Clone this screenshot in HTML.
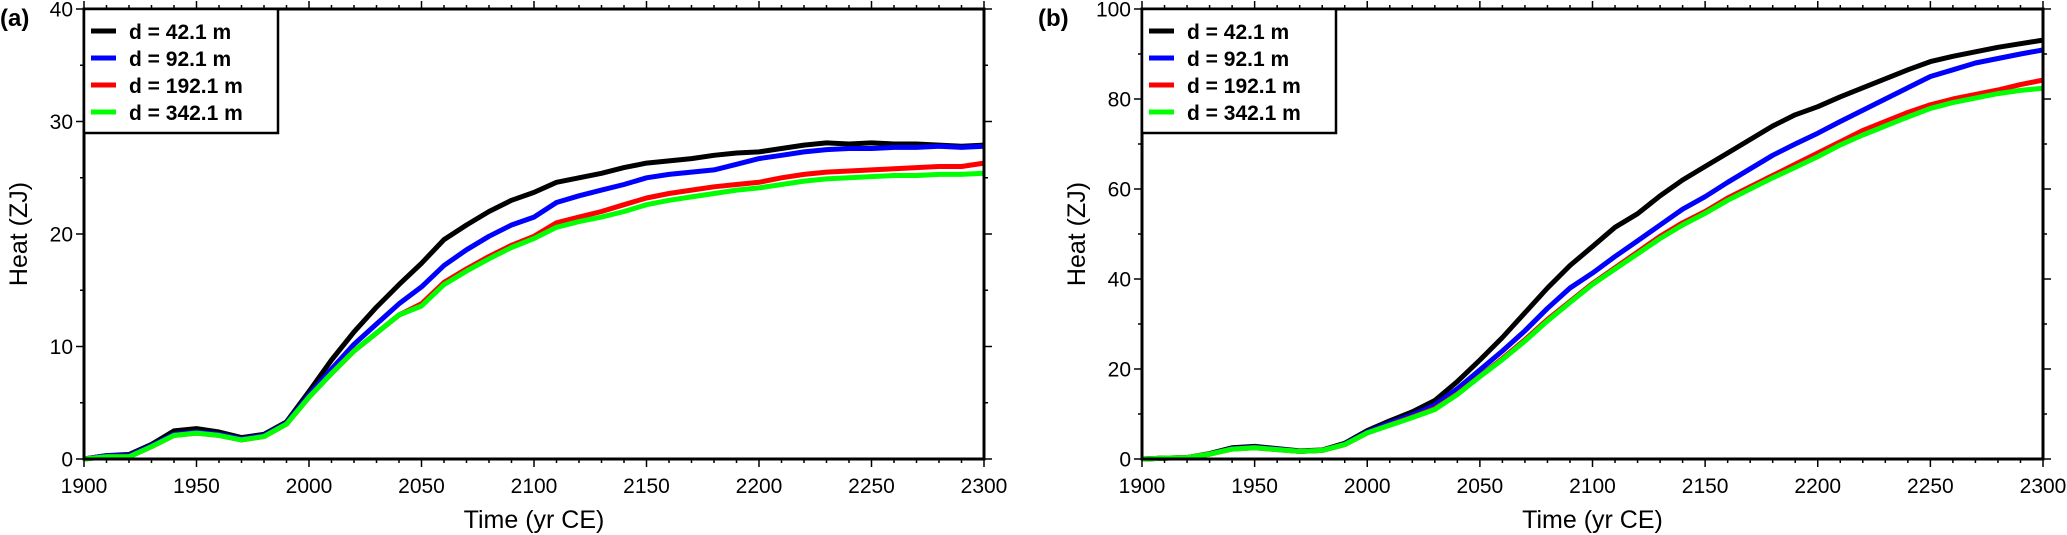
<!DOCTYPE html>
<html><head><meta charset="utf-8"><style>
html,body{margin:0;padding:0;background:#fff;}
svg{display:block;font-family:"Liberation Sans",Arial,sans-serif;}
</style></head><body>
<svg id="chart" width="2067" height="535" viewBox="0 0 2067 535" xmlns="http://www.w3.org/2000/svg"></svg>
<script>
const years = [];
for (let y = 1900; y <= 2300; y += 10) years.push(y);
const seriesNames = ["d = 42.1 m", "d = 92.1 m", "d = 192.1 m", "d = 342.1 m"];
const seriesColors = ["#000000", "#0000ff", "#ff0000", "#00ff00"];
const xTicks = [1900,1950,2000,2050,2100,2150,2200,2250,2300];
const aYTicks = [0,10,20,30,40];
const bYTicks = [0,20,40,60,80,100];

const aBlack = [0,0.3,0.4,1.3,2.5,2.7,2.4,1.9,2.2,3.3,6,8.8,11.3,13.5,15.5,17.4,19.5,20.8,22,23,23.7,24.6,25,25.4,25.9,26.3,26.5,26.7,27,27.2,27.3,27.6,27.9,28.1,28,28.1,28,28,27.9,27.8,27.9];
const aBlue = [0,0.3,0.3,1.2,2.2,2.4,2.2,1.8,2.1,3.2,5.7,8,10.2,12,13.8,15.3,17.2,18.6,19.8,20.8,21.5,22.8,23.4,23.9,24.4,25,25.3,25.5,25.7,26.2,26.7,27,27.3,27.5,27.6,27.6,27.7,27.7,27.8,27.7,27.8];
const aRed = [0,0.2,0.2,1.1,2.1,2.3,2.1,1.7,2,3.1,5.5,7.6,9.6,11.2,12.8,13.8,15.7,16.9,18,19,19.8,21,21.5,22,22.6,23.2,23.6,23.9,24.2,24.4,24.6,25,25.3,25.5,25.6,25.7,25.8,25.9,26,26,26.3];
const aGreen = [0,0.2,0.2,1.1,2.1,2.3,2.1,1.7,2,3.1,5.5,7.6,9.6,11.2,12.8,13.6,15.5,16.7,17.8,18.8,19.6,20.6,21.1,21.5,22,22.6,23,23.3,23.6,23.9,24.1,24.4,24.7,24.9,25,25.1,25.2,25.2,25.3,25.3,25.4];

const bBlack = [0,0.2,0.3,1.2,2.5,2.8,2.3,1.8,2,3.5,6.3,8.5,10.5,13,17.2,22,27,32.5,38,43,47.2,51.5,54.5,58.5,62,65,68,71,74,76.5,78.3,80.5,82.5,84.5,86.5,88.3,89.5,90.5,91.5,92.3,93.1];
const bBlue = [0,0.2,0.3,1.1,2.3,2.6,2.2,1.7,1.9,3.3,6,8,9.8,12,15.6,19.8,24,28.5,33.5,38,41.3,45,48.5,52,55.5,58.3,61.5,64.5,67.5,70,72.4,75,77.5,80,82.5,85,86.5,88,89,90,90.9];
const bRed = [0,0.2,0.3,1.1,2.2,2.5,2.1,1.7,1.9,3.2,5.8,7.6,9.3,11.2,14.5,18.4,22.3,26.5,31,35,39,42.5,46,49.5,52.5,55,58,60.5,63,65.5,68,70.5,73,75,77,78.7,80,81,82,83.2,84.2];
const bGreen = [0,0.2,0.3,1.1,2.2,2.5,2.1,1.7,1.9,3.2,5.8,7.5,9.2,11,14.3,18.3,22.1,26.2,30.7,34.8,38.8,42.2,45.6,49,52,54.6,57.5,60,62.5,64.8,67.2,69.8,72,74,76,77.9,79.2,80.2,81.2,81.9,82.4];

const NS = "http://www.w3.org/2000/svg";
const svg = document.getElementById("chart");
function mk(tag, attrs, parent) {
  const e = document.createElementNS(NS, tag);
  for (const k in attrs) e.setAttribute(k, attrs[k]);
  (parent || svg).appendChild(e);
  return e;
}

function panel(cfg) {
  const g = mk("g", {});
  
  
  const L = cfg.left, R = cfg.right, T = 9, B = 459;
  const xs = v => L + (v - 1900) / 400 * (R - L);
  const ys = v => B - v / cfg.ymax * (B - T);

  // series
  cfg.series.forEach((vals, i) => {
    const d = vals.map((v, j) => (j ? "L" : "M") + xs(years[j]).toFixed(1) + "," + ys(v).toFixed(1)).join(" ");
    const p = mk("path", {d: d, fill: "none", stroke: seriesColors[i], "stroke-width": 5, "stroke-linejoin": "round"}, g);
    
    
  });

  // ticks
  const tg = mk("g", {stroke: "#000", "stroke-width": 1.5}, g);
  
  
  for (let yr = 1900; yr <= 2300; yr += 10) {
    const len = (yr % 50 === 0) ? 8 : 4;
    const x = xs(yr);
    mk("line", {x1: x, x2: x, y1: B, y2: B + len}, tg);
    mk("line", {x1: x, x2: x, y1: T, y2: T - len}, tg);
  }
  for (let v = 0; v <= cfg.ymax; v += cfg.minor) {
    const len = (v % cfg.major === 0) ? 8 : 4;
    const y = ys(v);
    mk("line", {x1: L, x2: L - len, y1: y, y2: y}, tg);
    mk("line", {x1: R, x2: R + len, y1: y, y2: y}, tg);
  }
  xTicks.forEach(t => {
    const tx = mk("text", {x: xs(t), y: 493, "font-size": 21, "text-anchor": "middle"}, g);
    tx.textContent = t;
    
    
  });
  cfg.yTicks.forEach(t => {
    const tx = mk("text", {x: L - 11, y: ys(t) + 7.5, "font-size": 21, "text-anchor": "end"}, g);
    tx.textContent = t;
    
    
  });

  // frame
  const fr = mk("rect", {x: L, y: T, width: R - L, height: B - T, fill: "none", stroke: "#000", "stroke-width": 3}, g);
  
  

  // legend
  const lg = mk("g", {}, g);
  
  
  mk("rect", {x: L, y: T, width: 194, height: 124, fill: "#fff", stroke: "#000", "stroke-width": 2.5}, lg);
  seriesNames.forEach((n, i) => {
    const cy = 31 + i * 27;
    const le = mk("g", {}, lg);
    
    
    mk("line", {x1: L + 7, x2: L + 32, y1: cy, y2: cy, stroke: seriesColors[i], "stroke-width": 5}, le);
    const t = mk("text", {x: L + 45, y: cy + 8, "font-size": 21, "font-weight": "bold"}, le);
    t.textContent = n;
  });

  // titles
  const xt = mk("text", {x: (L + R) / 2, y: 528, "font-size": 25, "text-anchor": "middle"}, g);
  xt.textContent = "Time (yr CE)";
  
  
  const ytx = cfg.ytitleX;
  const yt = mk("text", {x: ytx, y: 234, "font-size": 25, "text-anchor": "middle", transform: "rotate(-90 " + ytx + " 234)"}, g);
  yt.textContent = "Heat (ZJ)";
  
  
  const pl = mk("text", {x: cfg.labelX, y: 26, "font-size": 24, "font-weight": "bold"}, g);
  pl.textContent = "(" + cfg.id + ")";
  
  
}

panel({id: "a", left: 84, right: 984, ymax: 40, major: 10, minor: 5, yTicks: aYTicks, ytitleX: 27, labelX: 0, series: [aBlack, aBlue, aRed, aGreen]});
panel({id: "b", left: 1142, right: 2043, ymax: 100, major: 20, minor: 10, yTicks: bYTicks, ytitleX: 1085, labelX: 1038, series: [bBlack, bBlue, bRed, bGreen]});
</script>
</body></html>
